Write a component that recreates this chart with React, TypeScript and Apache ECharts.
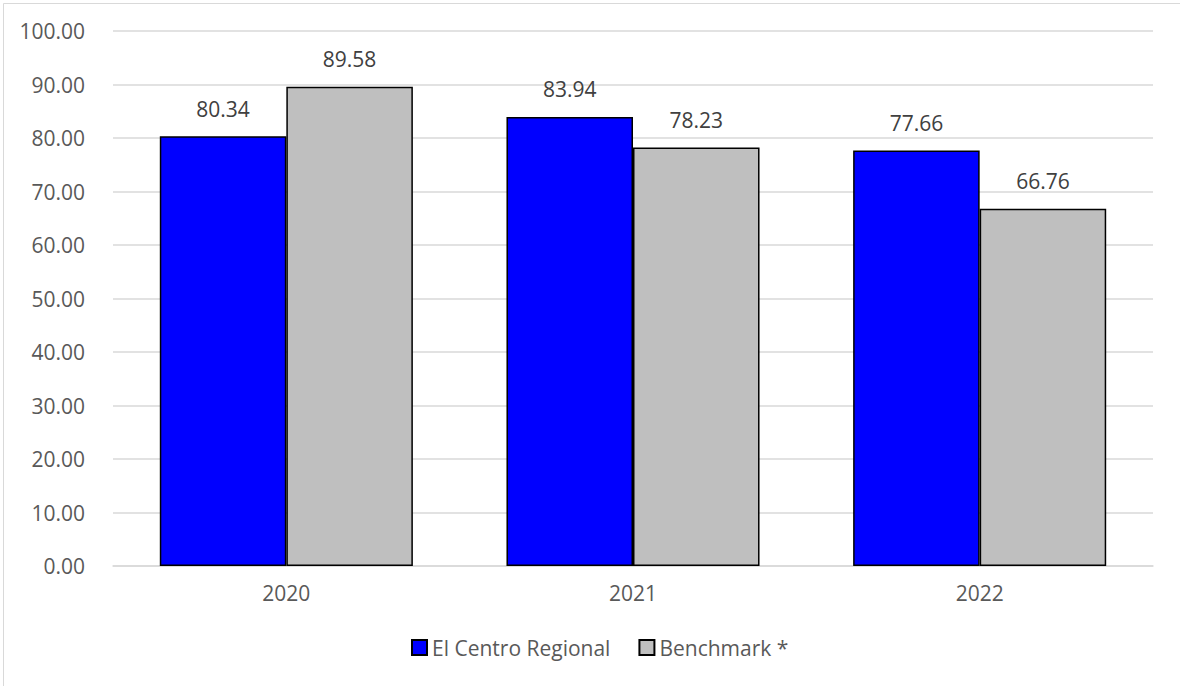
import React, { useEffect, useRef } from "react";
import * as echarts from "echarts";

const categories = ["2020", "2021", "2022"];
const centroValues = [80.34, 83.94, 77.66];
const benchmarkValues = [89.58, 78.23, 66.76];
const seriesNames = ["El Centro Regional", "Benchmark *"];

export default function App() {
  const ref = useRef<HTMLDivElement>(null);
  useEffect(() => {
    if (!ref.current) return;
    const chart = echarts.init(ref.current, null, { renderer: "svg" });
    const font = "'Open Sans', sans-serif";
    const labelStyle = {
      show: true,
      position: "top" as const,
      distance: 17,
      color: "#404040",
      fontSize: 21,
      fontFamily: font,
      formatter: (p: any) => Number(p.value).toFixed(2),
    };
    chart.setOption({
      animation: false,
      backgroundColor: "#ffffff",
      graphic: [
        {
          type: "rect",
          shape: { x: 3.5, y: 3.5, width: 1300, height: 800 },
          style: { fill: "none", stroke: "#d9d9d9", lineWidth: 1 },
          silent: true,
        },
      ],
      grid: { left: 113, right: 27, top: 31, bottom: 120, containLabel: false },
      legend: {
        data: seriesNames,
        top: 632,
        left: 406,
        itemWidth: 15,
        itemHeight: 15,
        itemGap: 28,
        icon: "rect",
        textStyle: { color: "#595959", fontSize: 21, fontFamily: font },
      },
      xAxis: {
        type: "category",
        data: categories,
        axisLine: { show: true, lineStyle: { color: "#d9d9d9", width: 1.5 } },
        axisTick: { show: false },
        axisLabel: { color: "#595959", fontSize: 21, fontFamily: font, margin: 16 },
      },
      yAxis: {
        type: "value",
        min: 0,
        max: 100,
        interval: 10,
        axisLine: { show: false },
        axisTick: { show: false },
        splitLine: { lineStyle: { color: "#d9d9d9", width: 1.5 } },
        axisLabel: {
          color: "#595959",
          fontSize: 21,
          fontFamily: font,
          margin: 28,
          formatter: (v: number) => v.toFixed(2),
        },
      },
      series: [
        {
          name: seriesNames[0],
          type: "bar",
          data: centroValues,
          barGap: "0%",
          barCategoryGap: "27%",
          itemStyle: { color: "#0000ff", borderColor: "#000000", borderWidth: 1.5 },
          label: labelStyle,
        },
        {
          name: seriesNames[1],
          type: "bar",
          data: benchmarkValues,
          barGap: "0%",
          barCategoryGap: "27%",
          itemStyle: { color: "#bfbfbf", borderColor: "#000000", borderWidth: 1.5 },
          label: labelStyle,
        },
      ],
    });
    return () => chart.dispose();
  }, []);
  return (
    <div
      ref={ref}
      style={{ position: "absolute", left: 0, top: 0, width: 1180, height: 686 }}
    />
  );
}
